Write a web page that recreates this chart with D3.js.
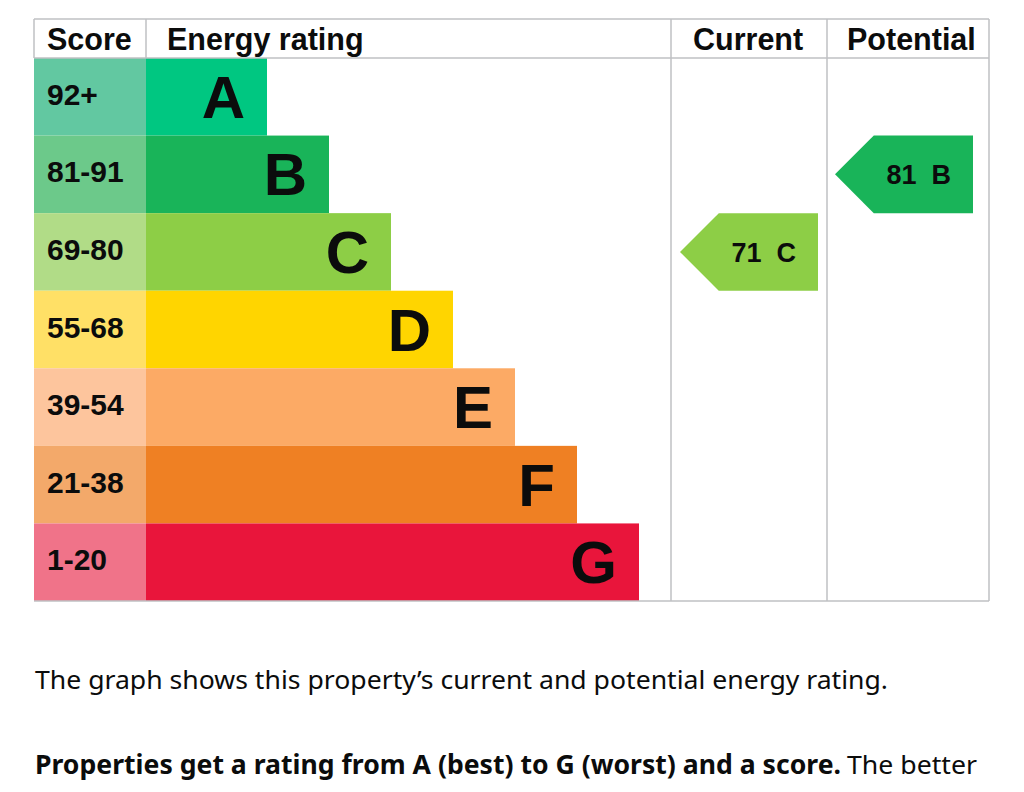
<!DOCTYPE html>
<html>
  <head>
    <title>Energy rating</title>
    <script src="https://cdn.jsdelivr.net/npm/d3@7"></script>
    <style>
      body { margin: 0; background: #fff; }
    </style>
  </head>
  <body>
    <svg width="1024" height="792" id="mainsvg"></svg>
    <script>
      // bands, top (best) to bottom (worst)
      const ratings = ["A", "B", "C", "D", "E", "F", "G"];
      const scoreRanges = ["92+", "81-91", "69-80", "55-68", "39-54", "21-38", "1-20"];
      const barColors = ["#00c781", "#19b459", "#8dce46", "#ffd500", "#fcaa65", "#ef8023", "#e9153b"];
      const scoreColors = ["#62c8a1", "#6cc98a", "#b1dc87", "#ffe066", "#fdc59d", "#f3a96a", "#f07389"];
      const headers = ["Score", "Energy rating", "Current", "Potential"];
      const currentScore = 71, currentRating = "C";
      const potentialScore = 81, potentialRating = "B";

      const svg = d3.select("#mainsvg");
      const font = "'Liberation Sans', Arial, sans-serif";
      const gridColor = "#bfc1c3";

      const tLeft = 34, tRight = 989, tTop = 19, headBottom = 58, tBottom = 601;
      const colScore = 146, colCurrent = 671, colPotential = 827;

      const yScale = d3.scaleBand().domain(ratings).range([headBottom, tBottom]);
      // bar end grows by a fixed step per band
      const barEnd = d3.scaleLinear().domain([0, ratings.length - 1]).range([267, 639]);

      const rows = ratings.map((r, i) => ({
        rating: r, range: scoreRanges[i], color: barColors[i], light: scoreColors[i], i
      }));

      const g = svg.append("g");

      // score cells
      g.selectAll("rect.score").data(rows).join("rect")
        .attr("class", "score")
        .attr("x", tLeft).attr("y", d => yScale(d.rating))
        .attr("width", colScore - tLeft).attr("height", yScale.bandwidth())
        .attr("fill", d => d.light);

      g.selectAll("text.score").data(rows).join("text")
        .attr("class", "score")
        .attr("x", tLeft + 13).attr("y", d => yScale(d.rating) + yScale.bandwidth() / 2 + 8)
        .attr("font-family", font).attr("font-weight", "bold").attr("font-size", 30)
        .attr("fill", "#0b0c0c")
        .text(d => d.range);

      // rating bars
      g.selectAll("rect.bar").data(rows).join("rect")
        .attr("class", "bar")
        .attr("x", colScore).attr("y", d => yScale(d.rating))
        .attr("width", d => barEnd(d.i) - colScore).attr("height", yScale.bandwidth())
        .attr("fill", d => d.color);

      g.selectAll("text.bar").data(rows).join("text")
        .attr("class", "bar")
        .attr("x", d => barEnd(d.i) - 22).attr("y", d => yScale(d.rating) + yScale.bandwidth() / 2 + 21)
        .attr("text-anchor", "end")
        .attr("font-family", font).attr("font-weight", "bold").attr("font-size", 60)
        .attr("fill", "#0b0c0c")
        .text(d => d.rating);

      // grid lines
      const lines = [
        [tLeft, tTop, tRight, tTop],
        [tLeft, headBottom, tRight, headBottom],
        [tLeft, tBottom, tRight, tBottom],
        [tLeft, tTop, tLeft, headBottom],
        [colScore, tTop, colScore, headBottom],
        [colCurrent, tTop, colCurrent, tBottom],
        [colPotential, tTop, colPotential, tBottom],
        [tRight, tTop, tRight, tBottom]
      ];
      g.selectAll("line.grid").data(lines).join("line")
        .attr("class", "grid")
        .attr("x1", d => d[0]).attr("y1", d => d[1])
        .attr("x2", d => d[2]).attr("y2", d => d[3])
        .attr("stroke", gridColor).attr("stroke-width", 1.5);

      // header
      const headX = [tLeft + 13, colScore + 21, colCurrent + 22, colPotential + 20];
      g.selectAll("text.head").data(headers).join("text")
        .attr("class", "head")
        .attr("x", (d, i) => headX[i]).attr("y", 50)
        .attr("font-family", font).attr("font-weight", "bold").attr("font-size", 30.5)
        .attr("fill", "#0b0c0c")
        .text(d => d);

      // arrows
      function arrow(x0, x1, score, rating) {
        const i = ratings.indexOf(rating);
        const y0 = yScale(rating), h = yScale.bandwidth(), tip = h / 2;
        const pts = [[x0, y0 + h / 2], [x0 + tip, y0], [x1, y0], [x1, y0 + h], [x0 + tip, y0 + h]];
        g.append("polygon")
          .attr("points", pts.map(p => p.join(",")).join(" "))
          .attr("fill", barColors[i]);
        g.append("text")
          .attr("x", x1 - 22).attr("y", y0 + h / 2 + 10)
          .attr("text-anchor", "end")
          .attr("font-family", font).attr("font-weight", "bold").attr("font-size", 27)
          .attr("fill", "#0b0c0c")
          .style("white-space", "pre")
          .text(score + "  " + rating);
      }
      arrow(colCurrent + 9, colPotential - 9, currentScore, currentRating);
      arrow(colPotential + 8, tRight - 16, potentialScore, potentialRating);

      // text below the chart
      const body = "'Noto Sans', Lato, sans-serif";
      svg.append("text")
        .attr("x", 35).attr("y", 689)
        .attr("font-family", body).attr("font-size", 26).attr("fill", "#0b0c0c")
        .attr("textLength", 853).attr("lengthAdjust", "spacingAndGlyphs")
        .text("The graph shows this property\u2019s current and potential energy rating.");

      const line2 = svg.append("text")
        .attr("x", 35).attr("y", 774)
        .attr("font-family", body).attr("font-size", 26).attr("fill", "#0b0c0c");
      line2.append("tspan").attr("font-weight", "bold")
        .attr("textLength", 806).attr("lengthAdjust", "spacingAndGlyphs")
        .text("Properties get a rating from A (best) to G (worst) and a score.");
      line2.append("tspan").attr("x", 847)
        .attr("textLength", 130).attr("lengthAdjust", "spacingAndGlyphs")
        .text("The better");
    </script>
  </body>
</html>
